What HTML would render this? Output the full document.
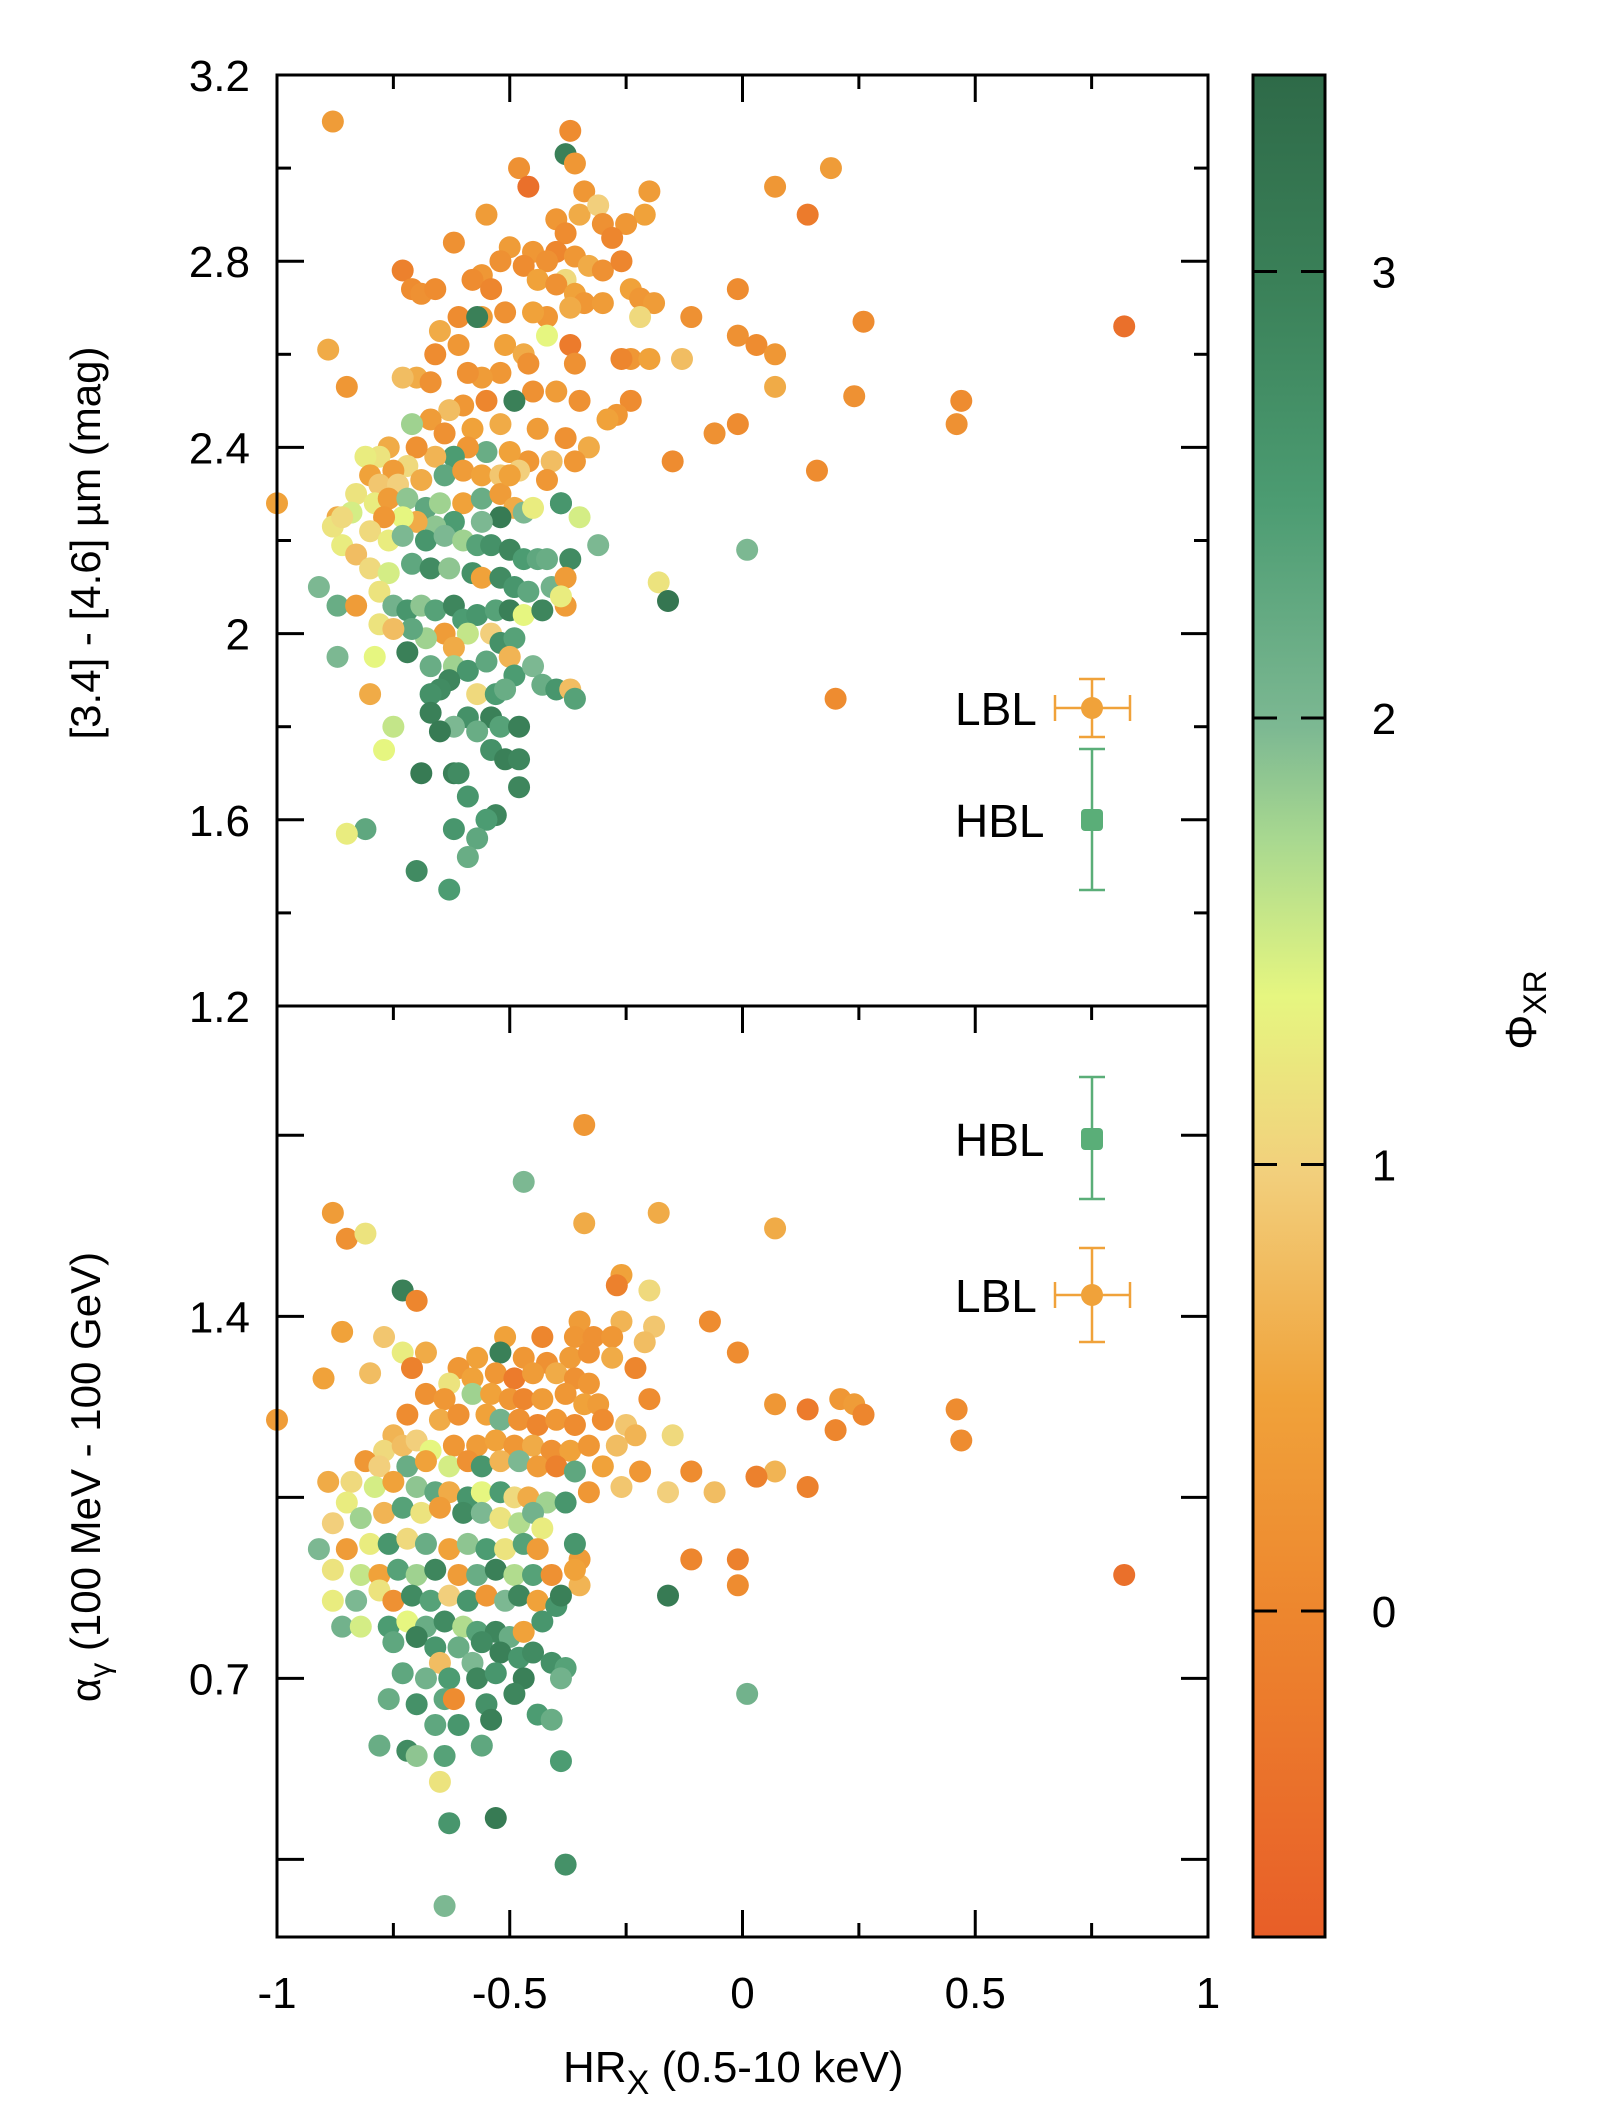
<!DOCTYPE html>
<html><head><meta charset="utf-8">
<style>
html,body{margin:0;padding:0;background:#fff;}
svg{display:block;font-family:"Liberation Sans",sans-serif;}
</style></head>
<body>
<svg id="chart" width="1602" height="2104" viewBox="0 0 1602 2104" xmlns="http://www.w3.org/2000/svg">
  <defs>
    <linearGradient id="cbgrad" x1="0" y1="1" x2="0" y2="0">
      <stop offset="0" stop-color="#e85e28"/>
      <stop offset="0.174" stop-color="#ed862e"/>
      <stop offset="0.29" stop-color="#f0a23a"/>
      <stop offset="0.41" stop-color="#f2cf7c"/>
      <stop offset="0.505" stop-color="#e6f680"/>
      <stop offset="0.59" stop-color="#a8d890"/>
      <stop offset="0.65" stop-color="#7cb892"/>
      <stop offset="0.77" stop-color="#4c9c72"/>
      <stop offset="0.89" stop-color="#3a8058"/>
      <stop offset="1" stop-color="#2e6a48"/>
    </linearGradient>
  </defs>
  <g id="top-points"></g>
  <g id="bot-points"></g>
  <g id="axes"></g>
</svg>
<script>
// ---- data ----
const topX = [-0.88,-0.37,-0.38,-0.36,-0.48,-0.46,-0.34,-0.35,-0.55,-0.31,-0.20,-0.21,-0.25,-0.30,-0.40,-0.38,-0.28,-0.62,-0.50,-0.45,-0.40,-0.42,-0.36,-0.33,-0.30,-0.26,-0.52,-0.56,-0.47,-0.44,-0.38,-0.58,-0.54,-0.73,-0.71,-0.69,-0.66,-0.40,-0.36,-0.34,-0.30,-0.24,-0.22,-0.19,-0.22,-0.11,-0.01,-0.37,-0.42,-0.45,-0.51,-0.56,-0.61,-0.57,-0.65,-0.61,-0.42,-0.37,-0.36,-0.51,-0.47,-0.46,-0.52,-0.56,-0.59,-0.66,-0.70,-0.73,-0.67,-0.24,-0.26,-0.20,-0.13,-0.01,0.03,0.07,0.07,0.26,0.82,0.24,0.47,0.46,0.19,0.07,0.14,-0.06,-0.01,-0.15,0.16,0.20,-0.89,-0.85,-1.00,-0.80,
-0.24,-0.27,-0.29,-0.35,-0.40,-0.45,-0.49,-0.55,-0.60,-0.63,-0.67,-0.71,-0.64,-0.58,-0.52,-0.44,-0.38,-0.33,-0.36,-0.41,-0.46,-0.50,-0.55,-0.59,-0.62,-0.66,-0.70,-0.76,-0.78,-0.81,-0.72,-0.75,-0.80,-0.78,-0.74,-0.69,-0.64,-0.60,-0.56,-0.52,-0.48,-0.42,
-0.83,-0.79,-0.76,-0.72,-0.68,-0.65,-0.60,-0.56,-0.52,-0.49,-0.47,-0.45,-0.39,-0.35,-0.52,-0.56,-0.62,-0.66,-0.70,-0.73,-0.77,-0.84,-0.87,-0.80,-0.76,-0.73,-0.68,-0.64,-0.60,-0.57,-0.54,-0.50,-0.47,-0.44,-0.42,-0.37,-0.18,-0.16,0.01,-0.31,
-0.86,-0.83,-0.80,-0.76,-0.71,-0.67,-0.63,-0.58,-0.56,-0.52,-0.49,-0.46,-0.41,-0.38,-0.38,-0.39,
-0.91,-0.87,-0.83,-0.78,-0.75,-0.72,-0.69,-0.66,-0.62,-0.60,-0.57,-0.53,-0.50,-0.47,-0.43,-0.59,-0.64,-0.68,-0.71,-0.54,-0.52,-0.49,-0.62,
-0.87,-0.79,-0.72,-0.67,-0.62,-0.59,-0.55,-0.50,-0.49,-0.45,-0.43,-0.40,-0.37,-0.63,-0.65,-0.67,-0.57,-0.53,-0.51,-0.67,-0.59,-0.54,-0.52,-0.48,-0.62,-0.65,-0.57,-0.75,-0.77,-0.54,-0.51,-0.48,-0.69,-0.62,-0.61,-0.48,-0.59,-0.53,-0.55,-0.62,-0.57,-0.59,-0.81,-0.85,-0.70,-0.63,-0.88,-0.86,-0.78,-0.75,-0.36,-0.39,-0.50];
const topY = [3.10,3.08,3.03,3.01,3.00,2.96,2.95,2.90,2.90,2.92,2.95,2.90,2.88,2.88,2.89,2.86,2.85,2.84,2.83,2.82,2.82,2.80,2.81,2.79,2.78,2.80,2.80,2.77,2.79,2.76,2.76,2.76,2.74,2.78,2.74,2.73,2.74,2.75,2.73,2.71,2.71,2.74,2.72,2.71,2.68,2.68,2.74,2.70,2.68,2.69,2.69,2.68,2.68,2.68,2.65,2.62,2.64,2.62,2.58,2.62,2.60,2.58,2.56,2.55,2.56,2.60,2.55,2.55,2.54,2.59,2.59,2.59,2.59,2.64,2.62,2.60,2.53,2.67,2.66,2.51,2.50,2.45,3.00,2.96,2.90,2.43,2.45,2.37,2.35,1.86,2.61,2.53,2.28,1.87,
2.50,2.47,2.46,2.50,2.52,2.52,2.50,2.50,2.49,2.48,2.46,2.45,2.43,2.44,2.45,2.44,2.42,2.40,2.37,2.37,2.37,2.39,2.39,2.40,2.38,2.38,2.40,2.40,2.38,2.38,2.36,2.35,2.34,2.32,2.32,2.33,2.34,2.35,2.34,2.34,2.35,2.33,
2.30,2.28,2.29,2.29,2.27,2.28,2.28,2.29,2.30,2.27,2.26,2.27,2.28,2.25,2.25,2.24,2.24,2.23,2.24,2.25,2.25,2.26,2.25,2.22,2.20,2.21,2.20,2.21,2.20,2.19,2.19,2.18,2.16,2.16,2.16,2.16,2.11,2.07,2.18,2.19,
2.19,2.17,2.14,2.13,2.15,2.14,2.14,2.13,2.12,2.12,2.10,2.09,2.10,2.12,2.06,2.08,
2.10,2.06,2.06,2.09,2.06,2.05,2.06,2.05,2.06,2.03,2.04,2.05,2.05,2.04,2.05,2.00,2.00,1.99,2.01,2.00,1.98,1.99,1.97,
1.95,1.95,1.96,1.93,1.93,1.92,1.94,1.95,1.91,1.93,1.89,1.88,1.88,1.90,1.88,1.87,1.87,1.87,1.88,1.83,1.82,1.82,1.80,1.80,1.80,1.79,1.79,1.80,1.75,1.75,1.73,1.73,1.70,1.70,1.70,1.67,1.65,1.61,1.60,1.58,1.56,1.52,1.58,1.57,1.49,1.45,2.23,2.25,2.02,2.01,1.86,2.28,2.34];
const topPhi = [0.4,0.1,3.0,0.3,0.2,-0.4,0.3,0.6,0.4,1.0,0.4,0.5,0.3,0.2,0.3,0.1,0.0,0.2,0.4,0.3,0.0,0.2,0.3,0.6,0.2,0.0,0.2,0.3,0.1,0.5,1.1,0.1,0.0,-0.1,0.1,0.2,0.1,0.2,0.5,0.3,0.4,0.5,0.3,0.4,1.1,0.2,0.1,0.6,0.3,0.5,0.2,0.4,0.1,3.0,0.6,0.3,1.4,-0.2,0.2,0.5,0.6,0.2,0.3,0.4,0.2,0.1,0.6,0.8,0.2,0.3,0.0,0.5,0.8,0.2,0.1,0.3,0.6,0.1,-0.4,0.2,0.1,0.2,0.4,0.3,-0.2,0.2,0.1,0.1,0.1,0.1,0.6,0.3,0.5,0.6,
0.1,0.3,0.5,0.2,0.4,0.2,3.0,0.0,0.3,0.8,0.4,1.8,0.2,0.5,0.6,0.4,0.2,0.6,0.3,0.8,0.3,0.5,2.2,0.3,2.5,0.7,0.2,0.6,1.2,1.3,1.1,0.4,0.5,0.9,1.0,0.6,2.3,0.4,0.5,0.9,1.0,0.3,
1.2,1.3,0.4,1.9,2.3,1.8,0.5,2.2,0.4,0.6,2.0,1.3,2.8,1.5,3.1,2.0,2.5,1.9,0.6,1.4,0.3,1.5,0.6,1.1,1.3,2.0,2.6,2.0,1.8,2.4,2.7,2.9,2.5,2.3,2.2,2.8,1.2,3.2,2.0,2.0,
1.3,0.8,1.1,1.5,2.3,2.8,1.9,2.7,0.5,2.8,2.6,2.3,2.1,0.4,0.4,1.3,
2.0,2.2,0.4,1.2,2.1,2.6,1.9,2.4,2.9,2.5,2.6,2.4,3.0,1.4,2.9,1.6,0.4,1.8,2.3,1.0,2.7,2.4,0.6,
2.0,1.4,3.0,2.2,1.8,2.6,2.3,0.7,2.5,2.0,2.2,2.6,0.8,2.9,2.8,2.7,1.1,2.5,2.2,3.0,2.7,3.0,2.4,3.0,2.0,3.1,2.2,1.6,1.4,2.7,3.0,2.9,3.1,3.0,2.8,2.9,2.6,2.9,2.5,2.6,2.3,2.2,2.3,1.3,2.8,2.5,1.2,1.1,1.2,0.8,2.4,2.6,0.5];

const botX = [-0.34,-0.47,-0.88,-0.34,-0.18,0.07,-0.85,-0.81,-0.26,-0.27,-0.20,-0.73,-0.70,-0.07,-0.35,-0.26,-0.19,-0.36,-0.86,-0.77,-0.51,-0.43,-0.32,-0.28,-0.21,-0.73,-0.68,-0.57,-0.52,-0.47,-0.42,-0.37,-0.33,-0.28,-0.23,-0.01,-0.71,-0.61,-0.58,-0.53,-0.49,-0.45,-0.40,-0.36,-0.33,-0.63,-0.90,-0.80,
-0.68,-0.64,-0.58,-0.54,-0.50,-0.47,-0.43,-0.38,-0.34,-0.31,-0.20,0.07,0.14,0.21,0.24,0.26,0.46,0.20,0.47,0.82,
-1.00,-0.72,-0.65,-0.61,-0.55,-0.52,-0.48,-0.44,-0.40,-0.36,-0.30,-0.25,-0.23,-0.15,-0.75,-0.77,-0.73,-0.70,-0.67,-0.62,-0.57,-0.53,-0.49,-0.45,-0.41,-0.37,-0.33,-0.27,-0.81,-0.78,-0.72,-0.68,-0.63,-0.59,-0.56,-0.52,-0.48,-0.44,-0.40,-0.36,-0.30,-0.22,-0.11,0.07,0.03,0.14,-0.16,-0.26,-0.06,
-0.89,-0.84,-0.79,-0.75,-0.70,-0.66,-0.63,-0.59,-0.56,-0.52,-0.49,-0.46,-0.42,-0.38,-0.33,-0.85,-0.88,-0.82,-0.77,-0.73,-0.69,-0.65,-0.60,-0.56,-0.52,-0.48,-0.45,-0.43,
-0.91,-0.85,-0.80,-0.76,-0.72,-0.68,-0.63,-0.59,-0.55,-0.51,-0.47,-0.44,-0.35,-0.36,-0.11,-0.01,-0.01,-0.16,-0.88,-0.82,-0.78,-0.74,-0.70,-0.66,-0.61,-0.57,-0.53,-0.49,-0.45,-0.41,-0.35,-0.36,
-0.88,-0.83,-0.78,-0.75,-0.71,-0.67,-0.63,-0.59,-0.55,-0.51,-0.48,-0.44,-0.40,-0.39,-0.86,-0.82,-0.76,-0.72,-0.68,-0.64,-0.60,-0.57,-0.53,-0.50,-0.47,-0.43,-0.75,-0.70,-0.66,-0.61,-0.56,-0.52,-0.48,-0.45,-0.41,-0.38,-0.65,-0.58,-0.73,-0.68,-0.63,-0.57,-0.53,-0.47,-0.39,-0.76,-0.70,-0.64,-0.62,-0.55,-0.49,-0.44,-0.41,-0.66,-0.61,-0.54,-0.78,-0.72,-0.70,-0.64,-0.56,-0.39,0.01,-0.65,-0.53,-0.63,-0.38,-0.64];
const botY = [1.77,1.66,1.60,1.58,1.60,1.57,1.55,1.56,1.48,1.46,1.45,1.45,1.43,1.39,1.39,1.39,1.38,1.36,1.37,1.36,1.36,1.36,1.36,1.36,1.35,1.33,1.33,1.32,1.33,1.32,1.31,1.32,1.33,1.32,1.30,1.33,1.30,1.30,1.28,1.29,1.28,1.29,1.29,1.28,1.27,1.27,1.28,1.29,
1.25,1.24,1.25,1.25,1.24,1.24,1.24,1.25,1.23,1.23,1.24,1.23,1.22,1.24,1.23,1.21,1.22,1.18,1.16,0.90,
1.20,1.21,1.20,1.21,1.21,1.20,1.20,1.19,1.20,1.19,1.20,1.19,1.17,1.17,1.17,1.14,1.15,1.16,1.14,1.15,1.15,1.16,1.15,1.15,1.14,1.14,1.15,1.15,1.12,1.11,1.11,1.12,1.11,1.12,1.11,1.12,1.12,1.11,1.11,1.10,1.11,1.10,1.10,1.10,1.09,1.07,1.06,1.07,1.06,
1.08,1.08,1.07,1.08,1.07,1.06,1.06,1.05,1.06,1.06,1.05,1.05,1.04,1.04,1.06,1.04,1.00,1.01,1.02,1.03,1.02,1.03,1.02,1.02,1.01,1.00,1.02,0.99,
0.95,0.95,0.96,0.96,0.97,0.96,0.95,0.96,0.95,0.95,0.96,0.95,0.93,0.96,0.93,0.93,0.88,0.86,0.91,0.90,0.90,0.91,0.90,0.91,0.90,0.90,0.91,0.90,0.90,0.90,0.88,0.91,
0.85,0.85,0.87,0.85,0.86,0.85,0.86,0.85,0.86,0.85,0.86,0.85,0.84,0.86,0.80,0.80,0.80,0.81,0.80,0.81,0.80,0.79,0.79,0.78,0.79,0.81,0.77,0.78,0.76,0.76,0.77,0.75,0.74,0.75,0.73,0.72,0.73,0.73,0.71,0.70,0.70,0.70,0.71,0.70,0.70,0.66,0.65,0.66,0.66,0.65,0.67,0.63,0.62,0.61,0.61,0.62,0.57,0.56,0.55,0.55,0.57,0.54,0.67,0.50,0.43,0.42,0.34,0.26];
const botPhi = [0.3,2.0,0.4,0.6,0.6,0.6,0.2,1.2,0.5,-0.1,1.1,3.0,0.0,0.1,0.4,0.7,0.9,0.3,0.5,0.9,0.5,0.0,0.2,0.3,0.8,1.3,0.6,0.5,3.0,0.3,0.2,0.4,0.2,0.6,0.0,0.1,-0.1,0.3,0.5,0.3,-0.2,0.4,0.6,0.2,0.3,1.2,0.5,0.8,
0.2,0.3,1.8,0.5,0.3,0.0,0.4,0.3,0.5,0.4,0.1,0.3,-0.2,0.3,0.4,0.0,0.1,0.0,0.1,-0.4,
0.4,0.1,0.6,0.2,0.5,2.1,0.2,0.0,0.3,0.1,0.1,0.9,0.7,1.1,0.7,1.1,0.8,1.0,1.4,0.3,0.4,0.5,0.3,0.6,0.2,0.5,0.3,0.8,0.3,1.0,2.2,0.5,1.5,0.2,2.6,0.7,2.0,0.4,-0.1,2.3,0.5,0.3,0.1,0.7,-0.1,-0.1,1.0,0.9,0.8,
0.6,1.1,1.5,0.5,1.9,2.3,0.6,2.6,1.4,2.5,1.1,0.6,1.8,2.6,0.3,1.3,1.0,1.8,0.7,2.4,1.2,0.4,2.8,2.0,1.2,1.7,2.1,1.3,
2.0,0.4,1.3,2.6,1.1,2.2,0.5,1.9,2.5,1.2,2.4,0.4,0.4,2.6,0.0,-0.1,0.1,3.1,1.2,1.6,0.5,2.4,1.8,2.9,0.4,2.2,3.0,1.7,2.4,0.2,0.7,0.5,
1.3,2.0,1.2,0.2,2.8,2.4,1.0,2.6,0.3,2.0,2.9,0.5,2.6,3.0,2.1,1.5,2.5,1.4,2.2,2.8,1.7,2.4,2.9,2.2,0.5,2.6,2.3,3.0,2.6,2.2,2.8,3.0,2.6,2.8,2.7,2.4,0.8,2.0,2.3,2.1,2.5,2.9,2.6,3.0,2.1,2.2,2.7,2.3,0.1,2.7,2.9,2.5,2.2,2.3,2.6,3.0,2.2,2.8,1.9,2.4,2.3,2.5,2.1,1.2,3.1,2.6,2.7,2.0];

const xTicks = [-1,-0.75,-0.5,-0.25,0,0.25,0.5,0.75,1];
const xTickLabels = ["-1","","-0.5","","0","","0.5","","1"];
const topYTicks = [1.2,1.4,1.6,1.8,2.0,2.2,2.4,2.6,2.8,3.0,3.2];
const topYTickLabels = ["1.2","","1.6","","2","","2.4","","2.8","","3.2"];
const botYTicks = [0.35,0.7,1.05,1.4,1.75];
const botYTickLabels = ["","0.7","","1.4",""];
const cbTicks = [0,1,2,3];
const cbTickLabels = ["0","1","2","3"];

// ---- geometry ----
const L=277, R=1208, T1=75, B1=1006, T2=1006, B2=1937;
const CBL=1253, CBR=1325, CBT=75, CBB=1937;
const xs = v => L + (v+1)/2*(R-L);
const ys1 = v => B1 - (v-1.2)/2.0*(B1-T1);
const ys2 = v => B2 - (v-0.2)/1.8*(B2-T2);
const cbMin=-0.73, cbMax=3.44;
const cbs = v => CBB - (v-cbMin)/(cbMax-cbMin)*(CBB-CBT);

const stops=[[-0.73,[232,94,40]],[0,[237,134,46]],[0.5,[240,162,58]],[1.0,[242,207,124]],[1.4,[230,246,128]],[1.75,[168,216,144]],[2.0,[124,184,146]],[2.5,[76,156,114]],[3.0,[58,128,88]],[3.44,[46,106,72]]];
function cmap(p){
  if(p<=stops[0][0]) return 'rgb('+stops[0][1]+')';
  for(let i=1;i<stops.length;i++){
    if(p<=stops[i][0]){
      const a=stops[i-1],b=stops[i],t=(p-a[0])/(b[0]-a[0]);
      const c=a[1].map((v,k)=>Math.round(v+(b[1][k]-v)*t));
      return 'rgb('+c.join(',')+')';
    }
  }
  return 'rgb('+stops[stops.length-1][1]+')';
}
const NS='http://www.w3.org/2000/svg';
function mk(tag,attrs,parent){const e=document.createElementNS(NS,tag);for(const k in attrs)e.setAttribute(k,attrs[k]);parent.appendChild(e);return e;}

const gTop=document.getElementById('top-points');
for(let i=0;i<topX.length;i++){
  const c=mk('circle',{cx:xs(topX[i]),cy:ys1(topY[i]),r:11,fill:cmap(topPhi[i])},gTop);
  
  
}
const gBot=document.getElementById('bot-points');
for(let i=0;i<botX.length;i++){
  const c=mk('circle',{cx:xs(botX[i]),cy:ys2(botY[i]),r:11,fill:cmap(botPhi[i])},gBot);
  
  
}

const ax=document.getElementById('axes');
const fr1=mk('rect',{x:L,y:T1,width:R-L,height:B1-T1,fill:'none',stroke:'#000','stroke-width':3},ax);


const fr2=mk('rect',{x:L,y:T2,width:R-L,height:B2-T2,fill:'none',stroke:'#000','stroke-width':3},ax);



function tickLine(x1,y1,x2,y2){mk('line',{x1:x1,y1:y1,x2:x2,y2:y2,stroke:'#000','stroke-width':3},ax);}
function txt(s,x,y,anchor,size,name){
  const t=mk('text',{x:x,y:y,'text-anchor':anchor,'font-size':size,fill:'#000'},ax);
  t.textContent=s;
  
  
  return t;
}
// x ticks
xTicks.forEach((v,i)=>{
  const x=xs(v), len = xTickLabels[i]!==""?27:14;
  tickLine(x,B2,x,B2-len); tickLine(x,T2,x,T2+len);
  tickLine(x,T1,x,T1+len);
  if(xTickLabels[i]!=="") txt(xTickLabels[i],x,2008,'middle',44,'x-tick-label');
});
// top y ticks
topYTicks.forEach((v,i)=>{
  const y=ys1(v), len=topYTickLabels[i]!==""?27:14;
  tickLine(L,y,L+len,y); tickLine(R,y,R-len,y);
  if(topYTickLabels[i]!=="") txt(topYTickLabels[i],250,y+16,'end',44,'top-y-tick-label');
});
botYTicks.forEach((v,i)=>{
  const y=ys2(v), len=27;
  tickLine(L,y,L+len,y); tickLine(R,y,R-len,y);
  if(botYTickLabels[i]!=="") txt(botYTickLabels[i],250,y+16,'end',44,'bottom-y-tick-label');
});
// axis titles
txt('HR',563,2082,'start',44,'x-axis-title').innerHTML='HR<tspan font-size="34" dy="12">X</tspan><tspan dy="-12"> (0.5-10 keV)</tspan>';
const yt1=txt('[3.4] - [4.6] µm (mag)',0,0,'middle',42,'top-y-axis-title');
yt1.setAttribute('transform','translate(100,543) rotate(-90)');
const yt2=txt('',0,0,'middle',42,'bottom-y-axis-title');
yt2.innerHTML='α<tspan font-size="30" dy="10">γ</tspan><tspan dy="-10"> (100 MeV - 100 GeV)</tspan>';
yt2.setAttribute('transform','translate(100,1477) rotate(-90)');

// legends
function legend(label,y,color,vTop,vBot,hL,hR,name){
  const g=mk('g',{},ax);
  
  
  const t=mk('text',{x:955,y:y+17,'font-size':46,fill:'#000'},g); t.textContent=label;
  const cx=1092;
  mk('line',{x1:cx,y1:vTop,x2:cx,y2:vBot,stroke:color,'stroke-width':2.5},g);
  mk('line',{x1:cx-13,y1:vTop,x2:cx+13,y2:vTop,stroke:color,'stroke-width':2.5},g);
  mk('line',{x1:cx-13,y1:vBot,x2:cx+13,y2:vBot,stroke:color,'stroke-width':2.5},g);
  if(hL!==null){
    mk('line',{x1:hL,y1:y,x2:hR,y2:y,stroke:color,'stroke-width':2.5},g);
    mk('line',{x1:hL,y1:y-13,x2:hL,y2:y+13,stroke:color,'stroke-width':2.5},g);
    mk('line',{x1:hR,y1:y-13,x2:hR,y2:y+13,stroke:color,'stroke-width':2.5},g);
    mk('circle',{cx:cx,cy:y,r:11,fill:color},g);
  } else {
    mk('rect',{x:cx-11,y:y-11,width:22,height:22,rx:4,fill:color},g);
  }
}
legend('LBL',708,'#f0a23a',679,737,1055,1130,'legend-lbl-top');
legend('HBL',820,'#5aae78',749,890,null,null,'legend-hbl-top');
legend('HBL',1139,'#5aae78',1077,1199,null,null,'legend-hbl-bottom');
legend('LBL',1295,'#f0a23a',1248,1342,1055,1130,'legend-lbl-bottom');

// colorbar
const cb=mk('rect',{x:CBL,y:CBT,width:CBR-CBL,height:CBB-CBT,fill:'url(#cbgrad)',stroke:'#000','stroke-width':3},ax);


cbTicks.forEach((v,i)=>{
  const y=cbs(v);
  mk('line',{x1:CBL,y1:y,x2:CBR,y2:y,stroke:'#000','stroke-width':3,'stroke-dasharray':'24 24'},ax);
  txt(cbTickLabels[i],1384,y+16,'middle',44,'colorbar-tick-label');
});
const cbt=txt('',0,0,'middle',44,'colorbar-title');
cbt.innerHTML='Φ<tspan font-size="32" dy="10">XR</tspan>';
cbt.setAttribute('transform','translate(1536,1010) rotate(-90)');
</script>
</body></html>
